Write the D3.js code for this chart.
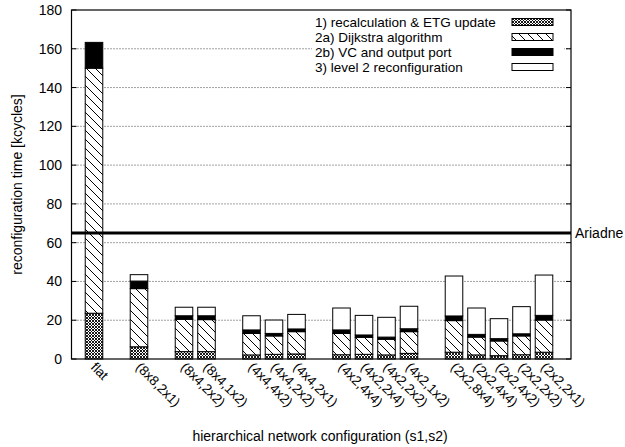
<!DOCTYPE html>
<html>
<head>
    <title>Reconfiguration time</title>
    <script src="https://d3js.org/d3.v7.min.js"></script>
    <style>
        body { margin: 0; background: #fff; }
        text { font-family: "Liberation Sans", Arial, Helvetica, sans-serif; fill: #000; }
        .grid line { stroke: #444; stroke-width: 1; stroke-dasharray: 1,2; }
    </style>
</head>
<body>
<svg width="625" height="447"></svg>
<script>
    // chart data
    const configs = ["flat", "(8x8,2x1)", "(8x4,2x2)", "(8x4,1x2)", "(4x4,4x2)", "(4x4,2x2)", "(4x4,2x1)",
        "(4x2,4x4)", "(4x2,2x4)", "(4x2,2x2)", "(4x2,1x2)",
        "(2x2,8x4)", "(2x2,4x4)", "(2x2,4x2)", "(2x2,2x2)", "(2x2,2x1)"];
    // group each config belongs to (one empty slot between groups)
    const groups = [0, 1, 2, 2, 3, 3, 3, 4, 4, 4, 4, 5, 5, 5, 5, 5];

    const recalc   = [23.6, 6.3, 3.8, 3.8, 2.1, 2.4, 2.6, 2.2, 2.4, 2.1, 2.9, 3.5, 2.1, 1.7, 2.2, 3.5];
    const dijkstra = [126.4, 30.0, 16.7, 16.5, 11.1, 9.5, 11.5, 11.0, 8.8, 8.1, 11.2, 16.3, 9.2, 7.6, 9.7, 16.6];
    const vcPort   = [13.3, 3.9, 1.8, 2.0, 1.8, 1.3, 1.4, 1.8, 1.2, 1.1, 1.5, 2.4, 1.4, 1.2, 1.1, 2.4];
    const level2   = [0, 3.3, 4.4, 4.4, 7.3, 6.9, 7.5, 11.3, 10.1, 10.2, 11.6, 20.6, 13.6, 10.3, 14.0, 20.8];

    const seriesKeys = ["recalc", "dijkstra", "vc", "level2"];
    const seriesLabels = ["1) recalculation & ETG update", "2a) Dijkstra algorithm", "2b) VC and output port", "3) level 2 reconfiguration"];
    const yTicks = [0, 20, 40, 60, 80, 100, 120, 140, 160, 180];
    const ariadne = 65;

    const rows = configs.map((c, i) => ({
        name: c, slot: i + groups[i],
        recalc: recalc[i], dijkstra: dijkstra[i], vc: vcPort[i], level2: level2[i]
    }));

    const svg = d3.select("svg");
    const margin = { left: 71.5, right: 54, top: 10, bottom: 88 };
    const W = 625, H = 447;

    const x = d3.scaleLinear().domain([-1, 21.2]).range([margin.left, W - margin.right]);
    const y = d3.scaleLinear().domain([0, 180]).range([H - margin.bottom, margin.top]);
    const barW = (x(1) - x(0)) * 0.78;

    // fill patterns
    const defs = svg.append("defs");
    const cross = defs.append("pattern").attr("id", "p-cross")
        .attr("patternUnits", "userSpaceOnUse").attr("width", 3).attr("height", 3);
    cross.append("rect").attr("width", 3).attr("height", 3).attr("fill", "#fff");
    cross.append("path").attr("d", "M0,0L3,3M3,0L0,3").attr("stroke", "#000").attr("stroke-width", 0.9);

    const hatch = defs.append("pattern").attr("id", "p-hatch")
        .attr("patternUnits", "userSpaceOnUse").attr("width", 9).attr("height", 9);
    hatch.append("rect").attr("width", 9).attr("height", 9).attr("fill", "#fff");
    hatch.append("path").attr("d", "M-1,-1L10,10M-1,8L1,10M8,-1L10,1").attr("stroke", "#000").attr("stroke-width", 1);

    const fills = { recalc: "url(#p-cross)", dijkstra: "url(#p-hatch)", vc: "#000", level2: "#fff" };

    // grid
    svg.append("g").attr("class", "grid")
        .selectAll("line").data(yTicks.filter(t => t > 0 && t < 180)).enter().append("line")
        .attr("x1", margin.left).attr("x2", W - margin.right)
        .attr("y1", d => y(d)).attr("y2", d => y(d));

    // inward tick marks left and right
    const ticks = svg.append("g");
    yTicks.forEach(t => {
        ticks.append("line").attr("x1", margin.left).attr("x2", margin.left + 5)
            .attr("y1", y(t)).attr("y2", y(t)).attr("stroke", "#000");
        ticks.append("line").attr("x1", W - margin.right - 5).attr("x2", W - margin.right)
            .attr("y1", y(t)).attr("y2", y(t)).attr("stroke", "#000");
    });

    // legend background hides the grid behind it
    svg.append("rect").attr("x", 312).attr("y", 13).attr("width", 252).attr("height", 61).attr("fill", "#fff");

    // bars
    const stack = d3.stack().keys(seriesKeys)(rows);
    svg.append("g").selectAll("g").data(stack).enter().append("g")
        .attr("fill", d => fills[d.key])
        .selectAll("rect").data(d => d.filter(s => s[1] - s[0] > 0)).enter().append("rect")
        .attr("x", d => x(d.data.slot) - barW / 2)
        .attr("width", barW)
        .attr("y", d => y(d[1]))
        .attr("height", d => y(d[0]) - y(d[1]))
        .attr("stroke", "#000").attr("stroke-width", 1);

    // Ariadne reference line
    svg.append("line").attr("x1", margin.left).attr("x2", W - margin.right)
        .attr("y1", y(ariadne)).attr("y2", y(ariadne))
        .attr("stroke", "#000").attr("stroke-width", 3);
    svg.append("text").attr("x", W - margin.right + 4).attr("y", y(ariadne) + 5)
        .attr("font-size", 14).text("Ariadne");

    // frame
    svg.append("rect").attr("x", margin.left).attr("y", margin.top)
        .attr("width", W - margin.right - margin.left).attr("height", H - margin.bottom - margin.top)
        .attr("fill", "none").attr("stroke", "#000").attr("stroke-width", 1.2);

    // y tick labels
    svg.append("g").selectAll("text").data(yTicks).enter().append("text")
        .attr("x", 62).attr("y", d => y(d) + 5)
        .attr("text-anchor", "end").attr("font-size", 14).text(d => d);

    // x tick labels rotated
    svg.append("g").selectAll("text").data(rows).enter().append("text")
        .attr("transform", d => `translate(${x(d.slot) - 4},${H - margin.bottom + 9}) rotate(45)`)
        .attr("font-size", 13.5).text(d => d.name);

    // axis titles
    svg.append("text").attr("x", 320).attr("y", 441)
        .attr("text-anchor", "middle").attr("font-size", 14).text("hierarchical network configuration (s1,s2)");
    svg.append("text").attr("transform", `translate(22,${(margin.top + H - margin.bottom) / 2}) rotate(-90)`)
        .attr("text-anchor", "middle").attr("font-size", 14).text("reconfiguration time [kcycles]");

    // legend
    const leg = svg.append("g").selectAll("g").data(seriesKeys).enter().append("g")
        .attr("transform", (d, i) => `translate(0,${22 + i * 15})`);
    leg.append("text").attr("x", 315).attr("y", 4.5).attr("font-size", 13.5).text((d, i) => seriesLabels[i]);
    leg.append("rect").attr("x", 512).attr("y", -3.5).attr("width", 41).attr("height", 7)
        .attr("fill", d => fills[d]).attr("stroke", "#000");
</script>
</body>
</html>
